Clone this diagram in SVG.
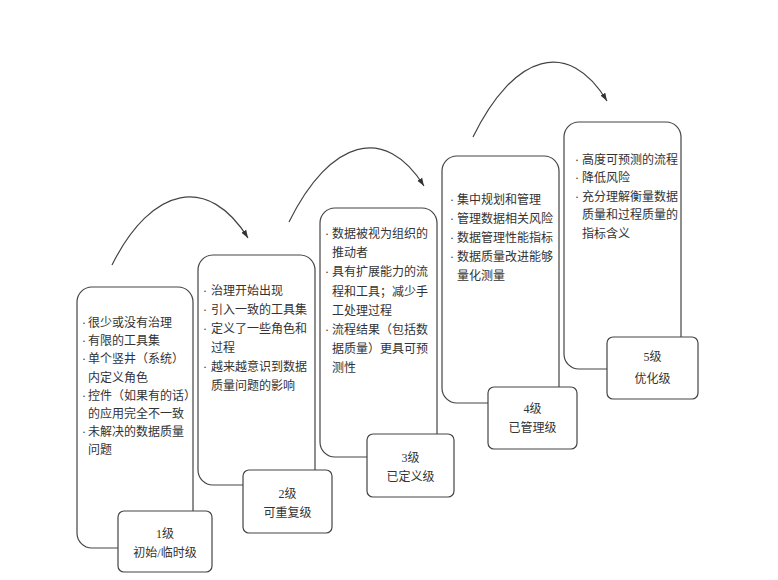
<svg xmlns="http://www.w3.org/2000/svg" width="778" height="580" viewBox="0 0 778 580">
<defs>
<marker id="ah" viewBox="0 0 10 10" refX="10" refY="5" markerWidth="8" markerHeight="8" markerUnits="userSpaceOnUse" orient="auto">
<path d="M0,1.5 L10,5 L0,8.5 Z" fill="#333"/>
</marker>
<style>
.box{fill:#fff;stroke:#444;stroke-width:1.2}
.lab{fill:#fff;stroke:#444;stroke-width:1.2}
.t{font-family:"Liberation Serif","Noto Sans CJK SC",serif;font-size:12px;fill:#333}
.c{text-anchor:middle}
.arc{fill:none;stroke:#444;stroke-width:1.2}
</style>
</defs>
<rect width="778" height="580" fill="#fff"/>
<g id="connectors">
<path class="arc" d="M112,265 C152,185 209,175 248,238" marker-end="url(#ah)"/>
<path class="arc" d="M289,222 C330,139 385,124 424,186" marker-end="url(#ah)"/>
<path class="arc" d="M473,137 C514,53 569,38 607,101" marker-end="url(#ah)"/>
</g>
<g id="level1">
<rect class="box" x="77" y="287" width="116" height="261" rx="15"/>
<text class="t" y="327"><tspan x="82">·</tspan><tspan x="88">很少或没有治理</tspan><tspan x="82" dy="18.2">·</tspan><tspan x="88">有限的工具集</tspan><tspan x="82" dy="18.2">·</tspan><tspan x="88">单个竖井（系统）</tspan><tspan x="88" dy="18.2">内定义角色</tspan><tspan x="82" dy="18.2">·</tspan><tspan x="88">控件（如果有的话）</tspan><tspan x="88" dy="18.2">的应用完全不一致</tspan><tspan x="82" dy="18.2">·</tspan><tspan x="88">未解决的数据质量</tspan><tspan x="88" dy="18.2">问题</tspan></text>
</g>
<g id="level2">
<rect class="box" x="198" y="255" width="117" height="230" rx="15"/>
<text class="t" y="294.5"><tspan x="203">·</tspan><tspan x="211">治理开始出现</tspan><tspan x="203" dy="19">·</tspan><tspan x="211">引入一致的工具集</tspan><tspan x="203" dy="19">·</tspan><tspan x="211">定义了一些角色和</tspan><tspan x="211" dy="19">过程</tspan><tspan x="203" dy="19">·</tspan><tspan x="211">越来越意识到数据</tspan><tspan x="211" dy="19">质量问题的影响</tspan></text>
</g>
<g id="level3">
<rect class="box" x="320" y="208" width="117" height="249" rx="15"/>
<text class="t" y="238"><tspan x="325">·</tspan><tspan x="332">数据被视为组织的</tspan><tspan x="332" dy="19.2">推动者</tspan><tspan x="325" dy="19.2">·</tspan><tspan x="332">具有扩展能力的流</tspan><tspan x="332" dy="19.2">程和工具；减少手</tspan><tspan x="332" dy="19.2">工处理过程</tspan><tspan x="325" dy="19.2">·</tspan><tspan x="332">流程结果（包括数</tspan><tspan x="332" dy="19.2">据质量）更具可预</tspan><tspan x="332" dy="19.2">测性</tspan></text>
</g>
<g id="level4">
<rect class="box" x="442" y="156" width="117" height="247" rx="15"/>
<text class="t" y="203.5"><tspan x="450">·</tspan><tspan x="457">集中规划和管理</tspan><tspan x="450" dy="19">·</tspan><tspan x="457">管理数据相关风险</tspan><tspan x="450" dy="19">·</tspan><tspan x="457">数据管理性能指标</tspan><tspan x="450" dy="19">·</tspan><tspan x="457">数据质量改进能够</tspan><tspan x="457" dy="19">量化测量</tspan></text>
</g>
<g id="level5">
<rect class="box" x="564" y="122" width="117" height="247" rx="15"/>
<text class="t" y="163.5"><tspan x="575">·</tspan><tspan x="582">高度可预测的流程</tspan><tspan x="575" dy="18.5">·</tspan><tspan x="582">降低风险</tspan><tspan x="575" dy="18.5">·</tspan><tspan x="582">充分理解衡量数据</tspan><tspan x="582" dy="18.5">质量和过程质量的</tspan><tspan x="582" dy="18.5">指标含义</tspan></text>
</g>
<g id="label1">
<rect class="lab" x="118" y="511" width="94" height="61" rx="6"/>
<text class="t c" x="165" y="537.5">1级</text>
<text class="t c" x="165" y="556.5">初始/临时级</text>
</g>
<g id="label2">
<rect class="lab" x="243" y="470" width="89" height="63" rx="6"/>
<text class="t c" x="287.5" y="497.5">2级</text>
<text class="t c" x="287.5" y="516.5">可重复级</text>
</g>
<g id="label3">
<rect class="lab" x="367" y="434" width="87" height="63" rx="6"/>
<text class="t c" x="410.5" y="461.5">3级</text>
<text class="t c" x="410.5" y="480.5">已定义级</text>
</g>
<g id="label4">
<rect class="lab" x="488" y="387" width="89" height="62" rx="6"/>
<text class="t c" x="532.5" y="412.5">4级</text>
<text class="t c" x="532.5" y="431.5">已管理级</text>
</g>
<g id="label5">
<rect class="lab" x="607" y="337" width="91" height="62" rx="6"/>
<text class="t c" x="652.5" y="360.5">5级</text>
<text class="t c" x="652.5" y="382.5">优化级</text>
</g>
</svg>
